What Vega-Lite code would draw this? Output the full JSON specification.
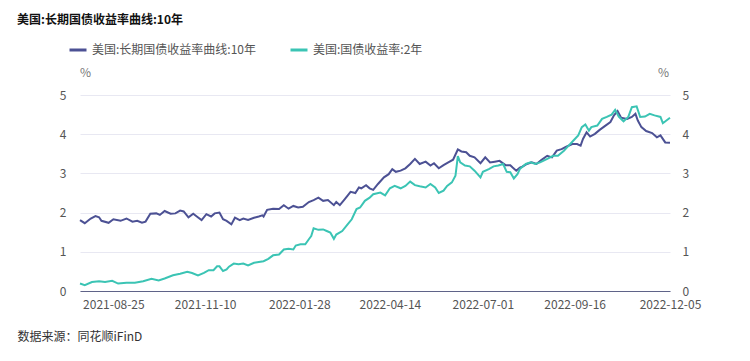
{
 "$schema": "https://vega.github.io/schema/vega-lite/v6.json",
 "autosize": "none",
 "width": 590,
 "height": 196,
 "padding": {"left": 80, "top": 95, "right": 80, "bottom": 70},
 "background": "white",
 "config": {
  "font": "Noto Sans CJK SC",
  "view": {"stroke": null},
  "legend": {"padding": 0}
 },
 "title": {"text": "美国:长期国债收益率曲线:10年", "anchor": "start", "frame": "group", "dx": -63, "dy": -9, "fontSize": 12, "fontWeight": "bold", "color": "#111111"},
 "data": {"values": [
  {"date":"2021-07-28","s":"美国:长期国债收益率曲线:10年","v":1.81},
  {"date":"2021-08-01","s":"美国:长期国债收益率曲线:10年","v":1.73},
  {"date":"2021-08-06","s":"美国:长期国债收益率曲线:10年","v":1.85},
  {"date":"2021-08-10","s":"美国:长期国债收益率曲线:10年","v":1.91},
  {"date":"2021-08-13","s":"美国:长期国债收益率曲线:10年","v":1.88},
  {"date":"2021-08-15","s":"美国:长期国债收益率曲线:10年","v":1.79},
  {"date":"2021-08-21","s":"美国:长期国债收益率曲线:10年","v":1.74},
  {"date":"2021-08-25","s":"美国:长期国债收益率曲线:10年","v":1.83},
  {"date":"2021-08-31","s":"美国:长期国债收益率曲线:10年","v":1.79},
  {"date":"2021-09-05","s":"美国:长期国债收益率曲线:10年","v":1.85},
  {"date":"2021-09-10","s":"美国:长期国债收益率曲线:10年","v":1.77},
  {"date":"2021-09-14","s":"美国:长期国债收益率曲线:10年","v":1.79},
  {"date":"2021-09-18","s":"美国:长期国债收益率曲线:10年","v":1.74},
  {"date":"2021-09-21","s":"美国:长期国债收益率曲线:10年","v":1.77},
  {"date":"2021-09-25","s":"美国:长期国债收益率曲线:10年","v":1.97},
  {"date":"2021-09-30","s":"美国:长期国债收益率曲线:10年","v":1.98},
  {"date":"2021-10-03","s":"美国:长期国债收益率曲线:10年","v":1.94},
  {"date":"2021-10-07","s":"美国:长期国债收益率曲线:10年","v":2.04},
  {"date":"2021-10-12","s":"美国:长期国债收益率曲线:10年","v":1.97},
  {"date":"2021-10-16","s":"美国:长期国债收益率曲线:10年","v":1.98},
  {"date":"2021-10-20","s":"美国:长期国债收益率曲线:10年","v":2.05},
  {"date":"2021-10-23","s":"美国:长期国债收益率曲线:10年","v":2.03},
  {"date":"2021-10-27","s":"美国:长期国债收益率曲线:10年","v":1.88},
  {"date":"2021-10-31","s":"美国:长期国债收益率曲线:10年","v":1.97},
  {"date":"2021-11-03","s":"美国:长期国债收益率曲线:10年","v":1.90},
  {"date":"2021-11-07","s":"美国:长期国债收益率曲线:10年","v":1.81},
  {"date":"2021-11-11","s":"美国:长期国债收益率曲线:10年","v":1.96},
  {"date":"2021-11-15","s":"美国:长期国债收益率曲线:10年","v":1.90},
  {"date":"2021-11-18","s":"美国:长期国债收益率曲线:10年","v":1.98},
  {"date":"2021-11-22","s":"美国:长期国债收益率曲线:10年","v":2.00},
  {"date":"2021-11-25","s":"美国:长期国债收益率曲线:10年","v":1.83},
  {"date":"2021-11-28","s":"美国:长期国债收益率曲线:10年","v":1.79},
  {"date":"2021-12-02","s":"美国:长期国债收益率曲线:10年","v":1.70},
  {"date":"2021-12-05","s":"美国:长期国债收益率曲线:10年","v":1.87},
  {"date":"2021-12-09","s":"美国:长期国债收益率曲线:10年","v":1.81},
  {"date":"2021-12-12","s":"美国:长期国债收益率曲线:10年","v":1.85},
  {"date":"2021-12-16","s":"美国:长期国债收益率曲线:10年","v":1.81},
  {"date":"2021-12-21","s":"美国:长期国债收益率曲线:10年","v":1.87},
  {"date":"2021-12-25","s":"美国:长期国债收益率曲线:10年","v":1.90},
  {"date":"2021-12-28","s":"美国:长期国债收益率曲线:10年","v":1.93},
  {"date":"2021-12-29","s":"美国:长期国债收益率曲线:10年","v":1.90},
  {"date":"2022-01-01","s":"美国:长期国债收益率曲线:10年","v":2.07},
  {"date":"2022-01-06","s":"美国:长期国债收益率曲线:10年","v":2.10},
  {"date":"2022-01-11","s":"美国:长期国债收益率曲线:10年","v":2.09},
  {"date":"2022-01-15","s":"美国:长期国债收益率曲线:10年","v":2.19},
  {"date":"2022-01-19","s":"美国:长期国债收益率曲线:10年","v":2.10},
  {"date":"2022-01-23","s":"美国:长期国债收益率曲线:10年","v":2.17},
  {"date":"2022-01-27","s":"美国:长期国债收益率曲线:10年","v":2.13},
  {"date":"2022-01-31","s":"美国:长期国债收益率曲线:10年","v":2.15},
  {"date":"2022-02-05","s":"美国:长期国债收益率曲线:10年","v":2.27},
  {"date":"2022-02-09","s":"美国:长期国债收益率曲线:10年","v":2.32},
  {"date":"2022-02-13","s":"美国:长期国债收益率曲线:10年","v":2.38},
  {"date":"2022-02-17","s":"美国:长期国债收益率曲线:10年","v":2.30},
  {"date":"2022-02-21","s":"美国:长期国债收益率曲线:10年","v":2.32},
  {"date":"2022-02-26","s":"美国:长期国债收益率曲线:10年","v":2.19},
  {"date":"2022-02-28","s":"美国:长期国债收益率曲线:10年","v":2.27},
  {"date":"2022-03-03","s":"美国:长期国债收益率曲线:10年","v":2.19},
  {"date":"2022-03-07","s":"美国:长期国债收益率曲线:10年","v":2.34},
  {"date":"2022-03-12","s":"美国:长期国债收益率曲线:10年","v":2.53},
  {"date":"2022-03-16","s":"美国:长期国债收益率曲线:10年","v":2.50},
  {"date":"2022-03-19","s":"美国:长期国债收益率曲线:10年","v":2.64},
  {"date":"2022-03-21","s":"美国:长期国债收益率曲线:10年","v":2.62},
  {"date":"2022-03-25","s":"美国:长期国债收益率曲线:10年","v":2.70},
  {"date":"2022-03-28","s":"美国:长期国债收益率曲线:10年","v":2.62},
  {"date":"2022-03-31","s":"美国:长期国债收益率曲线:10年","v":2.58},
  {"date":"2022-04-04","s":"美国:长期国债收益率曲线:10年","v":2.73},
  {"date":"2022-04-09","s":"美国:长期国债收益率曲线:10年","v":2.90},
  {"date":"2022-04-13","s":"美国:长期国债收益率曲线:10年","v":2.98},
  {"date":"2022-04-16","s":"美国:长期国债收益率曲线:10年","v":3.11},
  {"date":"2022-04-19","s":"美国:长期国债收益率曲线:10年","v":3.04},
  {"date":"2022-04-23","s":"美国:长期国债收益率曲线:10年","v":3.07},
  {"date":"2022-04-27","s":"美国:长期国债收益率曲线:10年","v":3.13},
  {"date":"2022-05-01","s":"美国:长期国债收益率曲线:10年","v":3.24},
  {"date":"2022-05-05","s":"美国:长期国债收益率曲线:10年","v":3.37},
  {"date":"2022-05-09","s":"美国:长期国债收益率曲线:10年","v":3.24},
  {"date":"2022-05-14","s":"美国:长期国债收益率曲线:10年","v":3.30},
  {"date":"2022-05-18","s":"美国:长期国债收益率曲线:10年","v":3.20},
  {"date":"2022-05-21","s":"美国:长期国债收益率曲线:10年","v":3.26},
  {"date":"2022-05-25","s":"美国:长期国债收益率曲线:10年","v":3.13},
  {"date":"2022-05-29","s":"美国:长期国债收益率曲线:10年","v":3.21},
  {"date":"2022-06-02","s":"美国:长期国债收益率曲线:10年","v":3.28},
  {"date":"2022-06-06","s":"美国:长期国债收益率曲线:10年","v":3.35},
  {"date":"2022-06-10","s":"美国:长期国债收益率曲线:10年","v":3.61},
  {"date":"2022-06-13","s":"美国:长期国债收益率曲线:10年","v":3.56},
  {"date":"2022-06-17","s":"美国:长期国债收益率曲线:10年","v":3.54},
  {"date":"2022-06-20","s":"美国:长期国债收益率曲线:10年","v":3.45},
  {"date":"2022-06-24","s":"美国:长期国债收益率曲线:10年","v":3.41},
  {"date":"2022-06-29","s":"美国:长期国债收益率曲线:10年","v":3.26},
  {"date":"2022-07-03","s":"美国:长期国债收益率曲线:10年","v":3.41},
  {"date":"2022-07-07","s":"美国:长期国债收益率曲线:10年","v":3.28},
  {"date":"2022-07-11","s":"美国:长期国债收益率曲线:10年","v":3.30},
  {"date":"2022-07-15","s":"美国:长期国债收益率曲线:10年","v":3.32},
  {"date":"2022-07-20","s":"美国:长期国债收益率曲线:10年","v":3.21},
  {"date":"2022-07-24","s":"美国:长期国债收益率曲线:10年","v":3.21},
  {"date":"2022-07-26","s":"美国:长期国债收益率曲线:10年","v":3.15},
  {"date":"2022-07-29","s":"美国:长期国债收益率曲线:10年","v":3.07},
  {"date":"2022-08-01","s":"美国:长期国债收益率曲线:10年","v":3.15},
  {"date":"2022-08-03","s":"美国:长期国债收益率曲线:10年","v":3.17},
  {"date":"2022-08-07","s":"美国:长期国债收益率曲线:10年","v":3.24},
  {"date":"2022-08-11","s":"美国:长期国债收益率曲线:10年","v":3.28},
  {"date":"2022-08-15","s":"美国:长期国债收益率曲线:10年","v":3.24},
  {"date":"2022-08-19","s":"美国:长期国债收益率曲线:10年","v":3.34},
  {"date":"2022-08-24","s":"美国:长期国债收益率曲线:10年","v":3.45},
  {"date":"2022-08-28","s":"美国:长期国债收益率曲线:10年","v":3.41},
  {"date":"2022-09-01","s":"美国:长期国债收益率曲线:10年","v":3.58},
  {"date":"2022-09-05","s":"美国:长期国债收益率曲线:10年","v":3.62},
  {"date":"2022-09-09","s":"美国:长期国债收益率曲线:10年","v":3.68},
  {"date":"2022-09-14","s":"美国:长期国债收益率曲线:10年","v":3.75},
  {"date":"2022-09-18","s":"美国:长期国债收益率曲线:10年","v":3.75},
  {"date":"2022-09-21","s":"美国:长期国债收益率曲线:10年","v":3.71},
  {"date":"2022-09-23","s":"美国:长期国债收益率曲线:10年","v":3.88},
  {"date":"2022-09-26","s":"美国:长期国债收益率曲线:10年","v":4.05},
  {"date":"2022-09-29","s":"美国:长期国债收益率曲线:10年","v":3.94},
  {"date":"2022-10-03","s":"美国:长期国债收益率曲线:10年","v":4.01},
  {"date":"2022-10-07","s":"美国:长期国债收益率曲线:10年","v":4.11},
  {"date":"2022-10-11","s":"美国:长期国债收益率曲线:10年","v":4.20},
  {"date":"2022-10-16","s":"美国:长期国债收益率曲线:10年","v":4.31},
  {"date":"2022-10-19","s":"美国:长期国债收益率曲线:10年","v":4.48},
  {"date":"2022-10-22","s":"美国:长期国债收益率曲线:10年","v":4.59},
  {"date":"2022-10-25","s":"美国:长期国债收益率曲线:10年","v":4.42},
  {"date":"2022-10-30","s":"美国:长期国债收益率曲线:10年","v":4.39},
  {"date":"2022-11-03","s":"美国:长期国债收益率曲线:10年","v":4.44},
  {"date":"2022-11-06","s":"美国:长期国债收益率曲线:10年","v":4.52},
  {"date":"2022-11-08","s":"美国:长期国债收益率曲线:10年","v":4.35},
  {"date":"2022-11-11","s":"美国:长期国债收益率曲线:10年","v":4.18},
  {"date":"2022-11-15","s":"美国:长期国债收益率曲线:10年","v":4.08},
  {"date":"2022-11-20","s":"美国:长期国债收益率曲线:10年","v":4.03},
  {"date":"2022-11-24","s":"美国:长期国债收益率曲线:10年","v":3.92},
  {"date":"2022-11-27","s":"美国:长期国债收益率曲线:10年","v":3.97},
  {"date":"2022-12-01","s":"美国:长期国债收益率曲线:10年","v":3.79},
  {"date":"2022-12-05","s":"美国:长期国债收益率曲线:10年","v":3.78},
  {"date":"2021-07-28","s":"美国:国债收益率:2年","v":0.19},
  {"date":"2021-08-01","s":"美国:国债收益率:2年","v":0.15},
  {"date":"2021-08-07","s":"美国:国债收益率:2年","v":0.23},
  {"date":"2021-08-13","s":"美国:国债收益率:2年","v":0.25},
  {"date":"2021-08-18","s":"美国:国债收益率:2年","v":0.23},
  {"date":"2021-08-24","s":"美国:国债收益率:2年","v":0.26},
  {"date":"2021-08-29","s":"美国:国债收益率:2年","v":0.19},
  {"date":"2021-09-05","s":"美国:国债收益率:2年","v":0.21},
  {"date":"2021-09-12","s":"美国:国债收益率:2年","v":0.21},
  {"date":"2021-09-19","s":"美国:国债收益率:2年","v":0.25},
  {"date":"2021-09-26","s":"美国:国债收益率:2年","v":0.31},
  {"date":"2021-10-02","s":"美国:国债收益率:2年","v":0.27},
  {"date":"2021-10-07","s":"美国:国债收益率:2年","v":0.32},
  {"date":"2021-10-14","s":"美国:国债收益率:2年","v":0.40},
  {"date":"2021-10-20","s":"美国:国债收益率:2年","v":0.44},
  {"date":"2021-10-26","s":"美国:国债收益率:2年","v":0.49},
  {"date":"2021-10-30","s":"美国:国债收益率:2年","v":0.46},
  {"date":"2021-11-04","s":"美国:国债收益率:2年","v":0.40},
  {"date":"2021-11-09","s":"美国:国债收益率:2年","v":0.46},
  {"date":"2021-11-13","s":"美国:国债收益率:2年","v":0.53},
  {"date":"2021-11-17","s":"美国:国债收益率:2年","v":0.53},
  {"date":"2021-11-20","s":"美国:国债收益率:2年","v":0.63},
  {"date":"2021-11-22","s":"美国:国债收益率:2年","v":0.63},
  {"date":"2021-11-25","s":"美国:国债收益率:2年","v":0.51},
  {"date":"2021-11-28","s":"美国:国债收益率:2年","v":0.55},
  {"date":"2021-11-30","s":"美国:国债收益率:2年","v":0.62},
  {"date":"2021-12-04","s":"美国:国债收益率:2年","v":0.70},
  {"date":"2021-12-08","s":"美国:国债收益率:2年","v":0.68},
  {"date":"2021-12-12","s":"美国:国债收益率:2年","v":0.70},
  {"date":"2021-12-16","s":"美国:国债收益率:2年","v":0.65},
  {"date":"2021-12-21","s":"美国:国债收益率:2年","v":0.72},
  {"date":"2021-12-25","s":"美国:国债收益率:2年","v":0.74},
  {"date":"2021-12-29","s":"美国:国债收益率:2年","v":0.76},
  {"date":"2022-01-02","s":"美国:国债收益率:2年","v":0.82},
  {"date":"2022-01-06","s":"美国:国债收益率:2年","v":0.91},
  {"date":"2022-01-11","s":"美国:国债收益率:2年","v":0.93},
  {"date":"2022-01-15","s":"美国:国债收益率:2年","v":1.06},
  {"date":"2022-01-19","s":"美国:国债收益率:2年","v":1.08},
  {"date":"2022-01-23","s":"美国:国债收益率:2年","v":1.06},
  {"date":"2022-01-25","s":"美国:国债收益率:2年","v":1.16},
  {"date":"2022-01-29","s":"美国:国债收益率:2年","v":1.19},
  {"date":"2022-02-02","s":"美国:国债收益率:2年","v":1.19},
  {"date":"2022-02-05","s":"美国:国债收益率:2年","v":1.32},
  {"date":"2022-02-07","s":"美国:国债收益率:2年","v":1.40},
  {"date":"2022-02-09","s":"美国:国债收益率:2年","v":1.60},
  {"date":"2022-02-13","s":"美国:国债收益率:2年","v":1.56},
  {"date":"2022-02-17","s":"美国:国债收益率:2年","v":1.57},
  {"date":"2022-02-20","s":"美国:国债收益率:2年","v":1.53},
  {"date":"2022-02-23","s":"美国:国债收益率:2年","v":1.49},
  {"date":"2022-02-26","s":"美国:国债收益率:2年","v":1.33},
  {"date":"2022-02-28","s":"美国:国债收益率:2年","v":1.44},
  {"date":"2022-03-05","s":"美国:国债收益率:2年","v":1.53},
  {"date":"2022-03-09","s":"美国:国债收益率:2年","v":1.68},
  {"date":"2022-03-13","s":"美国:国债收益率:2年","v":1.83},
  {"date":"2022-03-17","s":"美国:国债收益率:2年","v":2.09},
  {"date":"2022-03-20","s":"美国:国债收益率:2年","v":2.13},
  {"date":"2022-03-24","s":"美国:国债收益率:2年","v":2.30},
  {"date":"2022-03-28","s":"美国:国债收益率:2年","v":2.38},
  {"date":"2022-03-31","s":"美国:国债收益率:2年","v":2.47},
  {"date":"2022-04-06","s":"美国:国债收益率:2年","v":2.51},
  {"date":"2022-04-10","s":"美国:国债收益率:2年","v":2.44},
  {"date":"2022-04-14","s":"美国:国债收益率:2年","v":2.62},
  {"date":"2022-04-18","s":"美国:国债收益率:2年","v":2.68},
  {"date":"2022-04-23","s":"美国:国债收益率:2年","v":2.62},
  {"date":"2022-04-27","s":"美国:国债收益率:2年","v":2.68},
  {"date":"2022-05-01","s":"美国:国债收益率:2年","v":2.79},
  {"date":"2022-05-05","s":"美国:国债收益率:2年","v":2.70},
  {"date":"2022-05-09","s":"美国:国债收益率:2年","v":2.67},
  {"date":"2022-05-14","s":"美国:国债收益率:2年","v":2.64},
  {"date":"2022-05-18","s":"美国:国债收益率:2年","v":2.73},
  {"date":"2022-05-22","s":"美国:国债收益率:2年","v":2.64},
  {"date":"2022-05-25","s":"美国:国债收益率:2年","v":2.50},
  {"date":"2022-05-29","s":"美国:国债收益率:2年","v":2.56},
  {"date":"2022-06-01","s":"美国:国债收益率:2年","v":2.68},
  {"date":"2022-06-05","s":"美国:国债收益率:2年","v":2.77},
  {"date":"2022-06-08","s":"美国:国债收益率:2年","v":2.94},
  {"date":"2022-06-10","s":"美国:国债收益率:2年","v":3.44},
  {"date":"2022-06-12","s":"美国:国债收益率:2年","v":3.28},
  {"date":"2022-06-16","s":"美国:国债收益率:2年","v":3.20},
  {"date":"2022-06-20","s":"美国:国债收益率:2年","v":3.18},
  {"date":"2022-06-24","s":"美国:国债收益率:2年","v":3.07},
  {"date":"2022-06-29","s":"美国:国债收益率:2年","v":2.90},
  {"date":"2022-07-01","s":"美国:国债收益率:2年","v":3.04},
  {"date":"2022-07-06","s":"美国:国债收益率:2年","v":3.11},
  {"date":"2022-07-10","s":"美国:国债收益率:2年","v":3.18},
  {"date":"2022-07-14","s":"美国:国债收益率:2年","v":3.20},
  {"date":"2022-07-18","s":"美国:国债收益率:2年","v":3.24},
  {"date":"2022-07-21","s":"美国:国债收益率:2年","v":3.04},
  {"date":"2022-07-24","s":"美国:国债收益率:2年","v":3.03},
  {"date":"2022-07-27","s":"美国:国债收益率:2年","v":2.87},
  {"date":"2022-07-30","s":"美国:国债收益率:2年","v":2.98},
  {"date":"2022-08-01","s":"美国:国债收益率:2年","v":3.11},
  {"date":"2022-08-06","s":"美国:国债收益率:2年","v":3.24},
  {"date":"2022-08-10","s":"美国:国债收益率:2年","v":3.28},
  {"date":"2022-08-14","s":"美国:国债收益率:2年","v":3.24},
  {"date":"2022-08-18","s":"美国:国债收益率:2年","v":3.28},
  {"date":"2022-08-24","s":"美国:国债收益率:2年","v":3.37},
  {"date":"2022-08-29","s":"美国:国债收益率:2年","v":3.45},
  {"date":"2022-09-02","s":"美国:国债收益率:2年","v":3.45},
  {"date":"2022-09-07","s":"美国:国债收益率:2年","v":3.58},
  {"date":"2022-09-11","s":"美国:国债收益率:2年","v":3.71},
  {"date":"2022-09-15","s":"美国:国债收益率:2年","v":3.84},
  {"date":"2022-09-19","s":"美国:国债收益率:2年","v":3.97},
  {"date":"2022-09-22","s":"美国:国债收益率:2年","v":4.18},
  {"date":"2022-09-25","s":"美国:国债收益率:2年","v":4.25},
  {"date":"2022-09-28","s":"美国:国债收益率:2年","v":4.09},
  {"date":"2022-09-30","s":"美国:国债收益率:2年","v":4.18},
  {"date":"2022-10-05","s":"美国:国债收益率:2年","v":4.22},
  {"date":"2022-10-09","s":"美国:国债收益率:2年","v":4.39},
  {"date":"2022-10-13","s":"美国:国债收益率:2年","v":4.44},
  {"date":"2022-10-17","s":"美国:国债收益率:2年","v":4.50},
  {"date":"2022-10-20","s":"美国:国债收益率:2年","v":4.62},
  {"date":"2022-10-23","s":"美国:国债收益率:2年","v":4.45},
  {"date":"2022-10-27","s":"美国:国债收益率:2年","v":4.33},
  {"date":"2022-10-31","s":"美国:国债收益率:2年","v":4.44},
  {"date":"2022-11-03","s":"美国:国债收益率:2年","v":4.69},
  {"date":"2022-11-07","s":"美国:国债收益率:2年","v":4.71},
  {"date":"2022-11-10","s":"美国:国债收益率:2年","v":4.44},
  {"date":"2022-11-14","s":"美国:国债收益率:2年","v":4.45},
  {"date":"2022-11-18","s":"美国:国债收益率:2年","v":4.52},
  {"date":"2022-11-22","s":"美国:国债收益率:2年","v":4.48},
  {"date":"2022-11-27","s":"美国:国债收益率:2年","v":4.44},
  {"date":"2022-11-29","s":"美国:国债收益率:2年","v":4.28},
  {"date":"2022-12-05","s":"美国:国债收益率:2年","v":4.42}
 ]},
 "encoding": {
  "x": {
   "field": "date", "type": "temporal",
   "scale": {"type": "utc", "nice": false, "domain": [{"year":2021,"month":7,"date":28,"utc":true},{"year":2022,"month":12,"date":5,"utc":true}]},
   "axis": {
    "values": [
     {"year":2021,"month":8,"date":25,"utc":true},
     {"year":2021,"month":11,"date":10,"utc":true},
     {"year":2022,"month":1,"date":28,"utc":true},
     {"year":2022,"month":4,"date":14,"utc":true},
     {"year":2022,"month":7,"date":1,"utc":true},
     {"year":2022,"month":9,"date":16,"utc":true},
     {"year":2022,"month":12,"date":5,"utc":true}
    ],
    "labelExpr": "utcFormat(datum.value, '%Y-%m-%d')",
    "labelFlush": false,
    "labelOverlap": false,
    "labelFontSize": 12,
    "labelColor": "#555555",
    "labelPadding": 8,
    "ticks": false,
    "grid": false,
    "domainColor": "#5f6388",
    "domainWidth": 1,
    "title": "数据来源：同花顺iFinD",
    "titleX": -63,
    "titleY": 45,
    "titleAlign": "left",
    "titleAnchor": "start",
    "titleBaseline": "middle",
    "titleFontSize": 12,
    "titleFontWeight": "normal",
    "titleColor": "#333333"
   }
  },
  "color": {
   "field": "s", "type": "nominal",
   "scale": {"domain": ["美国:长期国债收益率曲线:10年", "美国:国债收益率:2年"], "range": ["#4c5194", "#3bc4b4"]},
   "legend": {
    "title": null,
    "orient": "none",
    "legendX": -12,
    "legendY": -55,
    "direction": "horizontal",
    "symbolType": "stroke",
    "symbolStrokeWidth": 3,
    "symbolSize": 289,
    "labelFontSize": 12,
    "labelColor": "#555555",
    "labelLimit": 400,
    "labelOffset": 4,
    "columnPadding": 28
   }
  }
 },
 "layer": [
  {
   "transform": [{"filter": "datum.s == '美国:长期国债收益率曲线:10年'"}],
   "mark": {"type": "line", "strokeWidth": 2},
   "encoding": {
    "y": {"field": "v", "type": "quantitative",
     "scale": {"domain": [0, 5], "nice": false},
     "axis": {"orient": "left", "values": [0,1,2,3,4,5], "title": "%", "titleAngle": 0, "titleX": 5, "titleY": -23, "titleAlign": "center", "titleBaseline": "middle", "titleFontSize": 12, "titleFontWeight": "normal", "titleColor": "#777777", "domain": false, "ticks": false, "labelPadding": 14, "labelFontSize": 12, "labelColor": "#555555", "grid": true, "gridColor": "#e8e8f2"}}
   }
  },
  {
   "transform": [{"filter": "datum.s == '美国:国债收益率:2年'"}],
   "mark": {"type": "line", "strokeWidth": 2},
   "encoding": {
    "y": {"field": "v", "type": "quantitative",
     "scale": {"domain": [0, 5], "nice": false},
     "axis": {"orient": "right", "values": [0,1,2,3,4,5], "title": "%", "titleAngle": 0, "titleX": -7, "titleY": -23, "titleAlign": "center", "titleBaseline": "middle", "titleFontSize": 12, "titleFontWeight": "normal", "titleColor": "#777777", "domain": false, "ticks": false, "labelPadding": 12, "labelFontSize": 12, "labelColor": "#555555", "grid": false}}
   }
  }
 ],
 "resolve": {"scale": {"y": "independent"}}
}
